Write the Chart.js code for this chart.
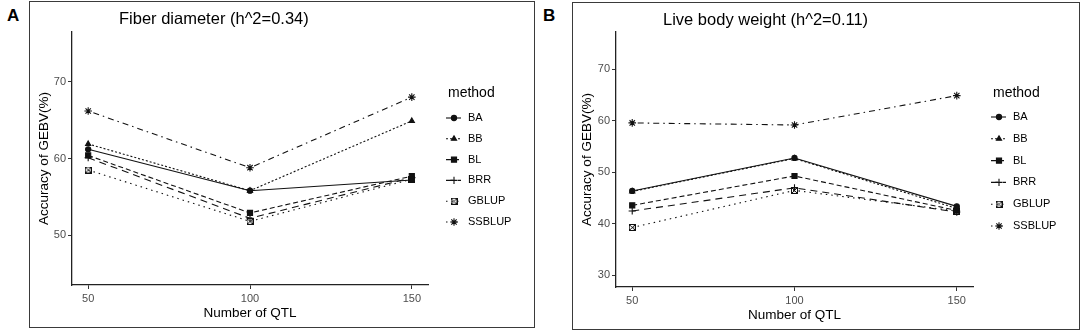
<!DOCTYPE html>
<html>
<head>
<meta charset="utf-8">
<script src="https://cdn.jsdelivr.net/npm/chart.js@4/dist/chart.umd.min.js"></script>
<style>
  body { margin: 0; background: #fff; width: 1084px; height: 332px; position: relative; overflow: hidden;
         font-family: "Liberation Sans", Arial, sans-serif; }
  .box { position: absolute; border: 1px solid #3a3a3a; }
  .box canvas { position: absolute; left: 0; top: 0; }
  .tag { position: absolute; font-weight: bold; font-size: 17px; line-height: 20px; }
  .ttl { position: absolute; font-size: 16.5px; line-height: 20px; white-space: nowrap; color: #000; }
</style>
</head>
<body>
<div class="tag" style="left:7px;top:6px;">A</div>
<div class="tag" style="left:543px;top:6px;">B</div>

<div class="box" style="left:29px;top:1px;width:504px;height:325px;">
  <canvas id="fiberChart" width="504" height="325" style="width:504px;height:325px;"></canvas>
</div>
<div class="box" style="left:572px;top:2px;width:506px;height:326px;">
  <canvas id="weightChart" width="506" height="326" style="width:506px;height:326px;"></canvas>
</div>

<div class="ttl" style="left:119px;top:8px;">Fiber diameter (h^2=0.34)</div>
<div class="ttl" style="left:663px;top:9px;">Live body weight (h^2=0.11)</div>

<script>
// x values (number of QTL) and method names
const qtl = [50, 100, 150];
const methods = ["BA", "BB", "BL", "BRR", "GBLUP", "SSBLUP"];

// Fiber diameter accuracies (%)
const fiberBA = [61.2, 55.8, 57.2];
const fiberBB = [61.9, 55.8, 64.9];
const fiberBL = [60.4, 52.9, 57.7];
const fiberBRR = [60.1, 52.2, 57.5];
const fiberGBLUP = [58.5, 51.8, 57.3];
const fiberSSBLUP = [66.2, 58.8, 68.0];

// Live body weight accuracies (%)
const weightBA = [46.4, 52.8, 43.4];
const weightBB = [46.3, 52.7, 43.0];
const weightBL = [43.6, 49.3, 42.6];
const weightBRR = [42.5, 47.0, 42.3];
const weightGBLUP = [39.3, 46.5, 42.5];
const weightSSBLUP = [59.6, 59.2, 64.9];

// tick labels
const xTicks = [50, 100, 150];
const yTicksFiber = [50, 60, 70];
const yTicksWeight = [30, 40, 50, 60, 70];

const FONT = '"Liberation Sans", Arial, sans-serif';
const INK = "#111";

// square with a cross inside (ggplot shape 7)
function boxCross() {
  const c = document.createElement("canvas");
  c.width = 7;
  c.height = 7;
  const g = c.getContext("2d");
  g.strokeStyle = INK;
  g.lineWidth = 1;
  g.strokeRect(0.5, 0.5, 6, 6);
  g.beginPath();
  g.moveTo(1, 1); g.lineTo(6, 6);
  g.moveTo(6, 1); g.lineTo(1, 6);
  g.stroke();
  return c;
}

// line type + marker for each method
const methodStyle = {
  BA:     { dash: [],           point: "circle",   radius: 2.6 },
  BB:     { dash: [2, 2],       point: "triangle", radius: 3 },
  BL:     { dash: [5, 3],       point: "rect",     radius: 3.6 },
  BRR:    { dash: [7, 5],       point: "cross",    radius: 3.6 },
  GBLUP:  { dash: [1.5, 4],     point: boxCross(), radius: 3.5 },
  SSBLUP: { dash: [1.5, 4, 6, 4], point: "star",   radius: 3.8 },
};

function makeDatasets(series) {
  return methods.map((m, i) => {
    const st = methodStyle[m];
    return {
      label: m,
      data: qtl.map((q, j) => ({ x: q, y: series[i][j] })),
      borderColor: INK,
      borderWidth: 1.1,
      borderDash: st.dash,
      pointStyle: st.point,
      pointRadius: st.radius,
      pointBackgroundColor: INK,
      pointBorderColor: INK,
      pointBorderWidth: 1.1,
      fill: false,
      tension: 0,
    };
  });
}

// legend drawn to the right of the plot panel, like ggplot's guide
const methodLegend = {
  id: "methodLegend",
  afterDraw(chart, args, opts) {
    const ctx = chart.ctx;
    const x0 = chart.chartArea.right + 20;
    ctx.save();
    ctx.textBaseline = "middle";
    ctx.fillStyle = "#000";
    ctx.font = "14px " + FONT;
    ctx.fillText("method", x0, opts.titleY);
    chart.data.datasets.forEach((ds, i) => {
      const y = opts.firstY + i * opts.step;
      ctx.strokeStyle = ds.borderColor;
      ctx.lineWidth = ds.borderWidth;
      ctx.setLineDash(ds.borderDash);
      ctx.beginPath();
      ctx.moveTo(x0 - 2, y);
      ctx.lineTo(x0 + 13, y);
      ctx.stroke();
      ctx.setLineDash([]);
      ctx.fillStyle = ds.pointBackgroundColor;
      ctx.strokeStyle = ds.pointBorderColor;
      ctx.lineWidth = ds.pointBorderWidth;
      Chart.helpers.drawPoint(ctx, {
        pointStyle: ds.pointStyle, radius: ds.pointRadius,
        borderWidth: ds.pointBorderWidth, rotation: 0
      }, x0 + 6, y);
      ctx.fillStyle = "#000";
      ctx.font = "11px " + FONT;
      ctx.fillText(ds.label, x0 + 20, y);
    });
    ctx.restore();
  }
};

function makeChart(id, series, yMin, yMax, yTicks, box, legend) {
  const ctx = document.getElementById(id).getContext("2d");
  return new Chart(ctx, {
    type: "line",
    data: { datasets: makeDatasets(series) },
    plugins: [methodLegend],
    options: {
      responsive: false,
      animation: false,
      events: [],
      layout: { autoPadding: false, padding: { left: 0, top: box.top, right: box.right, bottom: 0 } },
      plugins: {
        legend: { display: false },
        tooltip: { enabled: false },
        methodLegend: legend,
      },
      scales: {
        x: {
          type: "linear",
          min: 45,
          max: 155,
          afterBuildTicks: (scale) => { scale.ticks = xTicks.map((v) => ({ value: v })); },
          afterFit: (scale) => { scale.height = box.xHeight; },
          ticks: { color: "#4d4d4d", font: { family: FONT, size: 11 }, padding: 3 },
          grid: { drawOnChartArea: false, drawTicks: true, tickLength: 4, color: "#333", lineWidth: 1 },
          border: { display: true, color: "#222", width: 1.3 },
          title: { display: true, text: "Number of QTL", color: "#000",
                   font: { family: FONT, size: 13.5 }, padding: { top: 0, bottom: 6 } },
        },
        y: {
          min: yMin,
          max: yMax,
          afterBuildTicks: (scale) => { scale.ticks = yTicks.map((v) => ({ value: v })); },
          afterFit: (scale) => { scale.width = box.yWidth; },
          ticks: { color: "#4d4d4d", font: { family: FONT, size: 11 }, padding: 2 },
          grid: { drawOnChartArea: false, drawTicks: true, tickLength: 4, color: "#333", lineWidth: 1 },
          border: { display: true, color: "#222", width: 1.3 },
          title: { display: true, text: "Accuracy of GEBV(%)", color: "#000",
                   font: { family: FONT, size: 13.5 }, padding: { top: 6, bottom: 0 } },
        },
      },
    },
  });
}

makeChart("fiberChart",
  [fiberBA, fiberBB, fiberBL, fiberBRR, fiberGBLUP, fiberSSBLUP],
  43.5, 76.5, yTicksFiber,
  { top: 30, right: 106, xHeight: 42, yWidth: 42 },
  { titleY: 91, firstY: 116, step: 20.8 });

makeChart("weightChart",
  [weightBA, weightBB, weightBL, weightBRR, weightGBLUP, weightSSBLUP],
  27.75, 77.25, yTicksWeight,
  { top: 29, right: 106, xHeight: 42, yWidth: 43 },
  { titleY: 90, firstY: 114, step: 21.8 });
</script>
</body>
</html>
